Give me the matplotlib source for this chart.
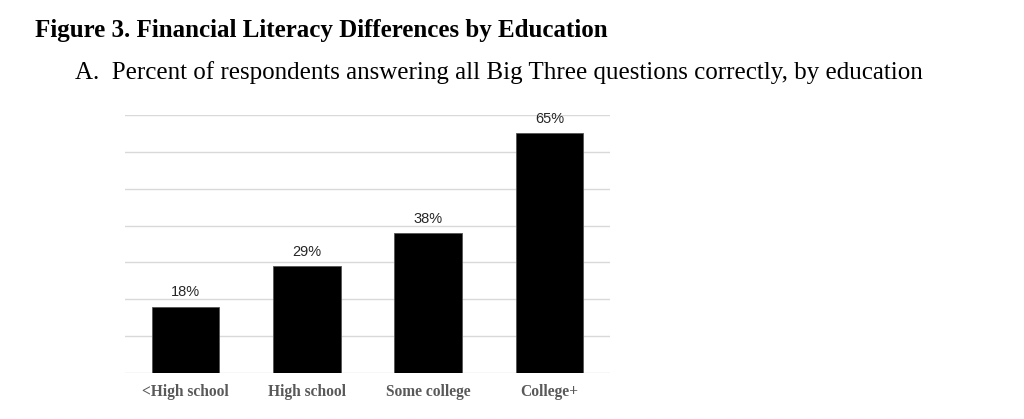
import numpy as np
import matplotlib.pyplot as plt

categories = ['<High school', 'High school', 'Some college', 'College+']
pct_correct = [18, 29, 38, 65]
value_labels = ['18%', '29%', '38%', '65%']

fig = plt.figure(figsize=(10.24, 4.19), dpi=100)
ax = fig.add_axes([125/1024, 46/419, 485/1024, 258/419])

x = np.arange(len(categories))
ax.bar(x, pct_correct, width=0.557, color='black', edgecolor='#555555', linewidth=0.6, zorder=3)

for xi, v, lab in zip(x, pct_correct, value_labels):
    ax.text(xi, v + 2.0, lab, ha='center', va='bottom', fontsize=10.5,
            family='Liberation Sans', color='#262626')

ax.set_xlim(-0.5, len(categories) - 0.5)
ax.set_ylim(0, 70)
ax.set_yticks(np.arange(0, 71, 10))
ax.yaxis.grid(True, color='#d9d9d9', linewidth=1.0, zorder=0)
ax.tick_params(axis='y', length=0, labelleft=False)
ax.tick_params(axis='x', length=0, pad=8)
ax.set_xticks(x)
ax.set_xticklabels(categories, family='Liberation Serif', fontweight='bold',
                   fontsize=11.2, color='#595959')
for s in ax.spines.values():
    s.set_visible(False)

fig.text(35/1024, 1 - 37/419, 'Figure 3. Financial Literacy Differences by Education',
         family='Liberation Serif', fontweight='bold', fontsize=18, color='black',
         ha='left', va='baseline')
fig.text(75/1024, 1 - 79/419,
         'A.  Percent of respondents answering all Big Three questions correctly, by education',
         family='Liberation Serif', fontsize=18, color='black', ha='left', va='baseline')

fig.savefig('out.png', dpi=100)
